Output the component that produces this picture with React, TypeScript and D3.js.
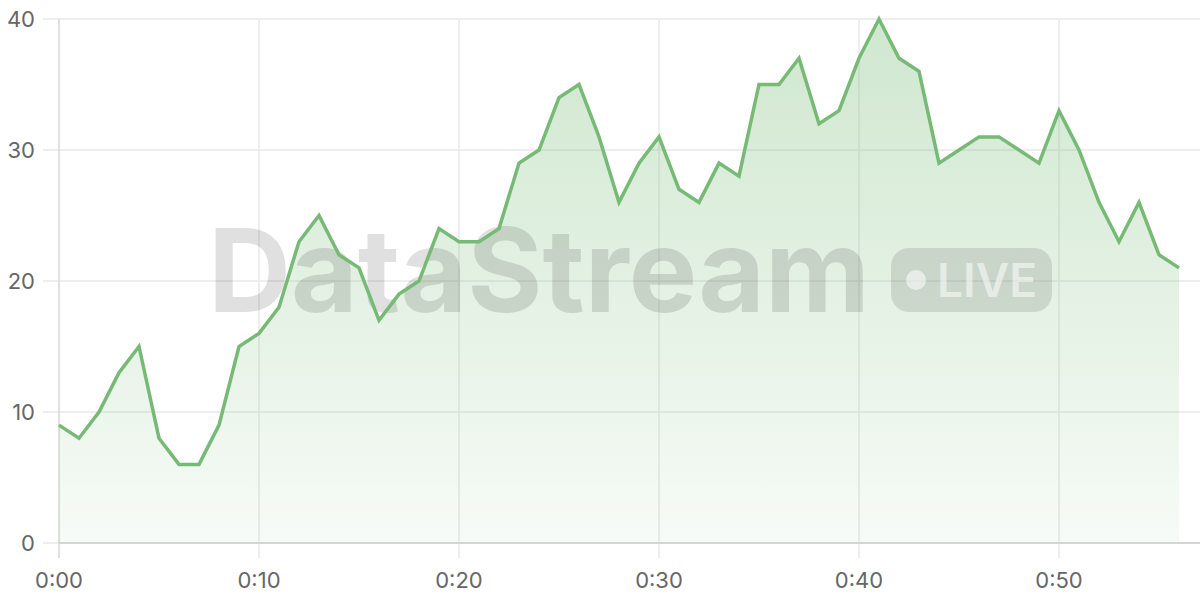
import React from "react";
import * as d3 from "d3";

const minutes = d3.range(0, 57);
const values = [9, 8, 10, 13, 15, 8, 6, 6, 9, 15, 16, 18, 23, 25, 22, 21, 17, 19, 20, 24, 23, 23, 24, 29, 30, 34, 35, 31, 26, 29, 31, 27, 26, 29, 28, 35, 35, 37, 32, 33, 37, 40, 37, 36, 29, 30, 31, 31, 30, 29, 33, 30, 26, 23, 26, 22, 21];
const xTicks = [0, 10, 20, 30, 40, 50];
const xTickLabels = ["0:00", "0:10", "0:20", "0:30", "0:40", "0:50"];
const yTicks = [0, 10, 20, 30, 40];
const watermarkText = "DataStream";
const badgeText = "LIVE";

const W = 1200, H = 600;
const M = { left: 59, right: 1200, top: 19, bottom: 543 };
const FONT = "Inter, 'Open Sans', sans-serif";

export default function App() {
  const x = d3.scaleLinear().domain([0, 56]).range([M.left, M.left + 56 * 20]);
  const y = d3.scaleLinear().domain([0, 40]).range([M.bottom, M.top]);
  const data = minutes.map((m, i) => ({ m, v: values[i] }));
  const line = d3.line<{ m: number; v: number }>().x(d => x(d.m)).y(d => y(d.v));
  const area = d3.area<{ m: number; v: number }>().x(d => x(d.m)).y0(y(0)).y1(d => y(d.v));
  const green = "#76ba76";
  return (
    <svg width={W} height={H} style={{ position: "absolute", left: 0, top: 0, background: "#fff" }}>
      <defs>
        <linearGradient id="ag" x1="0" y1={M.top} x2="0" y2={M.bottom} gradientUnits="userSpaceOnUse">
          <stop offset="0" stopColor={green} stopOpacity={0.35} />
          <stop offset="1" stopColor={green} stopOpacity={0.06} />
        </linearGradient>
      </defs>
      {yTicks.map(t => (
        <g key={"y" + t}>
          <line x1={43} x2={W} y1={y(t)} y2={y(t)} stroke="#e8e8e8" strokeWidth={1.5} />
          <text x={35} y={y(t)} dy="0.36em" textAnchor="end" fontFamily={FONT} fontSize={22} fill="#666">{t}</text>
        </g>
      ))}
      {xTicks.map((t, i) => (
        <g key={"x" + t}>
          <line x1={x(t)} x2={x(t)} y1={M.top} y2={558} stroke={t === 0 ? "#d6d6d6" : "#e8e8e8"} strokeWidth={1.5} />
          <text x={x(t)} y={588} textAnchor="middle" fontFamily={FONT} fontSize={22} fill="#666">{xTickLabels[i]}</text>
        </g>
      ))}
      <path d={area(data) || ""} fill="url(#ag)" />
      <g>
        <text x={208} y={312} fontFamily={FONT} fontWeight={700} fontSize={116} fill="rgba(0,0,0,0.12)" textLength={662} lengthAdjust="spacingAndGlyphs">{watermarkText}</text>
        <rect x={891} y={248} width={161} height={64} rx={18} fill="rgba(0,0,0,0.11)" />
        <circle cx={916} cy={280} r={10} fill="rgba(255,255,255,0.55)" />
        <text x={937} y={297} fontFamily={FONT} fontWeight={600} fontSize={46} fill="rgba(255,255,255,0.55)">{badgeText}</text>
      </g>
      <line x1={M.left} x2={W} y1={M.bottom} y2={M.bottom} stroke="#ccc" strokeWidth={1.5} />
      <path d={line(data) || ""} fill="none" stroke={green} strokeWidth={3.5} strokeLinejoin="miter" />
    </svg>
  );
}
